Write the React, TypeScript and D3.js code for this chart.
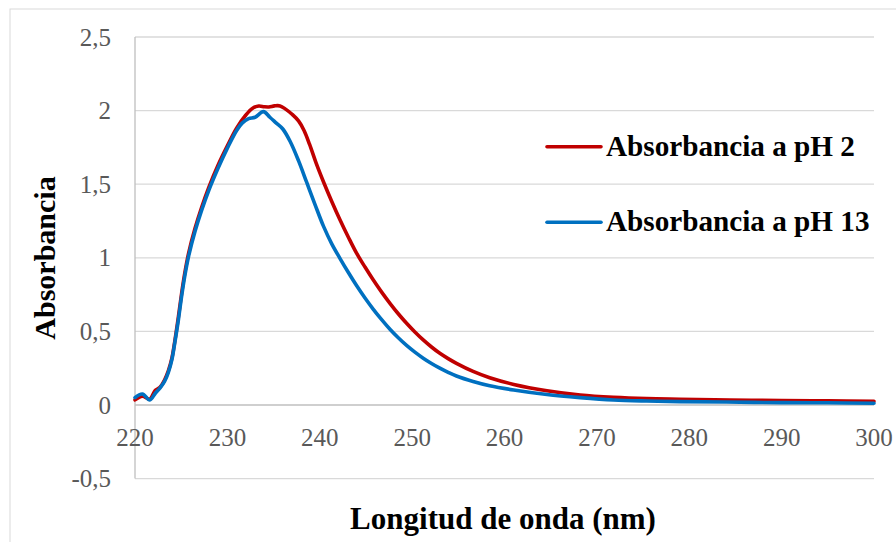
import React from "react";
import * as d3 from "d3";

// Absorbance spectrum at pH 2: wavelengths (nm) and absorbance values
const wavelengthsPH2: number[] = [
  220, 220.8, 221.6, 222.2, 222.7, 223.2, 223.6, 224.0, 224.3, 224.7, 225.05, 225.4, 225.8,
  226.5, 227.2, 228, 229, 230, 231, 232, 232.7, 233.4, 234, 234.5, 235.1, 235.7, 236.3,
  237, 237.7, 238.3, 238.9, 239.6, 240.4, 241.3, 242.2, 243.1, 244, 244.9, 245.8, 246.7,
  247.6, 248.5, 249.4, 250.3, 251.2, 252.1, 253, 253.9, 254.8, 256.6, 258.4, 261, 264.6,
  268.2, 271.8, 275.4, 279, 284.4, 290, 295, 300,
];
const absorbancePH2: number[] = [
  0.035, 0.06, 0.04, 0.1, 0.12, 0.17, 0.23, 0.32, 0.43, 0.6, 0.76, 0.9, 1.03,
  1.2, 1.34, 1.48, 1.63, 1.76, 1.88, 1.97, 2.015, 2.031, 2.026, 2.025, 2.032, 2.032, 2.01,
  1.975, 1.93, 1.865, 1.77, 1.645, 1.517, 1.383, 1.257, 1.14, 1.03, 0.937, 0.849, 0.767,
  0.691, 0.62, 0.555, 0.496, 0.442, 0.394, 0.351, 0.315, 0.283, 0.228, 0.185, 0.14, 0.097,
  0.068, 0.052, 0.043, 0.039, 0.034, 0.03, 0.028, 0.025,
];

// Absorbance spectrum at pH 13
const wavelengthsPH13: number[] = [
  220, 220.8, 221.6, 222.2, 222.7, 223.2, 223.6, 224.0, 224.3, 224.7, 225.05, 225.4, 225.8,
  226.5, 227.2, 228, 229, 230, 231, 231.6, 232.3, 233, 233.9, 234.6, 235.3, 236, 236.8,
  237.7, 238.6, 239.5, 240.4, 241.3, 242.2, 243.1, 244, 244.9, 245.8, 246.7, 247.6, 248.5,
  249.4, 250.3, 251.2, 252.1, 253, 253.9, 254.8, 256.6, 258.4, 261, 264.6, 268.2, 271.8,
  275.4, 279, 284, 290, 295, 300,
];
const absorbancePH13: number[] = [
  0.05, 0.075, 0.034, 0.08, 0.115, 0.16, 0.22, 0.31, 0.42, 0.58, 0.74, 0.88, 1.01,
  1.18, 1.32, 1.46, 1.61, 1.745, 1.865, 1.915, 1.945, 1.955, 1.993, 1.955, 1.915, 1.875, 1.79,
  1.66, 1.51, 1.36, 1.215, 1.095, 0.995, 0.9, 0.81, 0.727, 0.65, 0.58, 0.515, 0.457,
  0.405, 0.359, 0.318, 0.282, 0.25, 0.222, 0.197, 0.16, 0.131, 0.102, 0.071, 0.05, 0.034,
  0.027, 0.023, 0.02, 0.016, 0.015, 0.012,
];

const xTicks: number[] = [220, 230, 240, 250, 260, 270, 280, 290, 300];
const yTicks: number[] = [-0.5, 0, 0.5, 1, 1.5, 2, 2.5];
const yTickLabels: string[] = ["-0,5", "0", "0,5", "1", "1,5", "2", "2,5"];
const seriesNames: string[] = ["Absorbancia a pH 2", "Absorbancia a pH 13"];
const seriesColors: string[] = ["#C00000", "#0070C0"];

const W = 896;
const H = 542;
const FONT = "'Liberation Serif', 'Times New Roman', serif";

export default function App() {
  const x = d3.scaleLinear().domain([220, 300]).range([135, 874]);
  const y = d3.scaleLinear().domain([-0.5, 2.5]).range([478.6, 37]);

  const line = d3
    .line<[number, number]>()
    .x((d) => x(d[0]))
    .y((d) => y(d[1]))
    .curve(d3.curveCatmullRom.alpha(0.5));

  const series = [
    d3.zip(wavelengthsPH2, absorbancePH2) as [number, number][],
    d3.zip(wavelengthsPH13, absorbancePH13) as [number, number][],
  ];

  const legendY = [146.7, 222.3];

  return (
    <svg
      width={W}
      height={H}
      style={{ position: "absolute", left: 0, top: 0, background: "#fff" }}
      fontFamily={FONT}
    >
      <rect x={10} y={9} width={W} height={H} fill="#fff" stroke="#d9d9d9" strokeWidth={1} />

      {/* horizontal gridlines */}
      {yTicks
        .filter((t) => t !== 0)
        .map((t) => (
          <line key={t} x1={x(220)} x2={x(300)} y1={y(t)} y2={y(t)} stroke="#d9d9d9" strokeWidth={1.3} />
        ))}

      {/* axes */}
      <line x1={x(220)} x2={x(220)} y1={y(2.5)} y2={y(-0.5)} stroke="#bfbfbf" strokeWidth={1.3} />
      <line x1={x(220)} x2={x(300)} y1={y(0)} y2={y(0)} stroke="#bfbfbf" strokeWidth={1.3} />

      {/* y tick labels */}
      {yTicks.map((t, i) => (
        <text key={t} x={111} y={y(t) + 8.5} textAnchor="end" fontSize={25} fill="#595959">
          {yTickLabels[i]}
        </text>
      ))}

      {/* x tick labels */}
      {xTicks.map((t) => (
        <text key={t} x={x(t)} y={446} textAnchor="middle" fontSize={25} fill="#595959">
          {t}
        </text>
      ))}

      {/* spectra */}
      {series.map((s, i) => (
        <path
          key={i}
          d={line(s) || ""}
          fill="none"
          stroke={seriesColors[i]}
          strokeWidth={3.6}
          strokeLinejoin="round"
          strokeLinecap="round"
        />
      ))}

      {/* legend */}
      {seriesNames.map((name, i) => (
        <g key={name}>
          <line x1={547} x2={601} y1={legendY[i]} y2={legendY[i]} stroke={seriesColors[i]} strokeWidth={3.6} strokeLinecap="round" />
          <text x={606} y={legendY[i] + 8.8} fontSize={29.2} fontWeight="bold" fill="#000">
            {name}
          </text>
        </g>
      ))}

      {/* axis titles */}
      <text x={503} y={529} textAnchor="middle" fontSize={31} fontWeight="bold" fill="#000">
        Longitud de onda (nm)
      </text>
      <text
        transform={`translate(55, 258) rotate(-90)`}
        textAnchor="middle"
        fontSize={30}
        fontWeight="bold"
        fill="#000"
      >
        Absorbancia
      </text>
    </svg>
  );
}
